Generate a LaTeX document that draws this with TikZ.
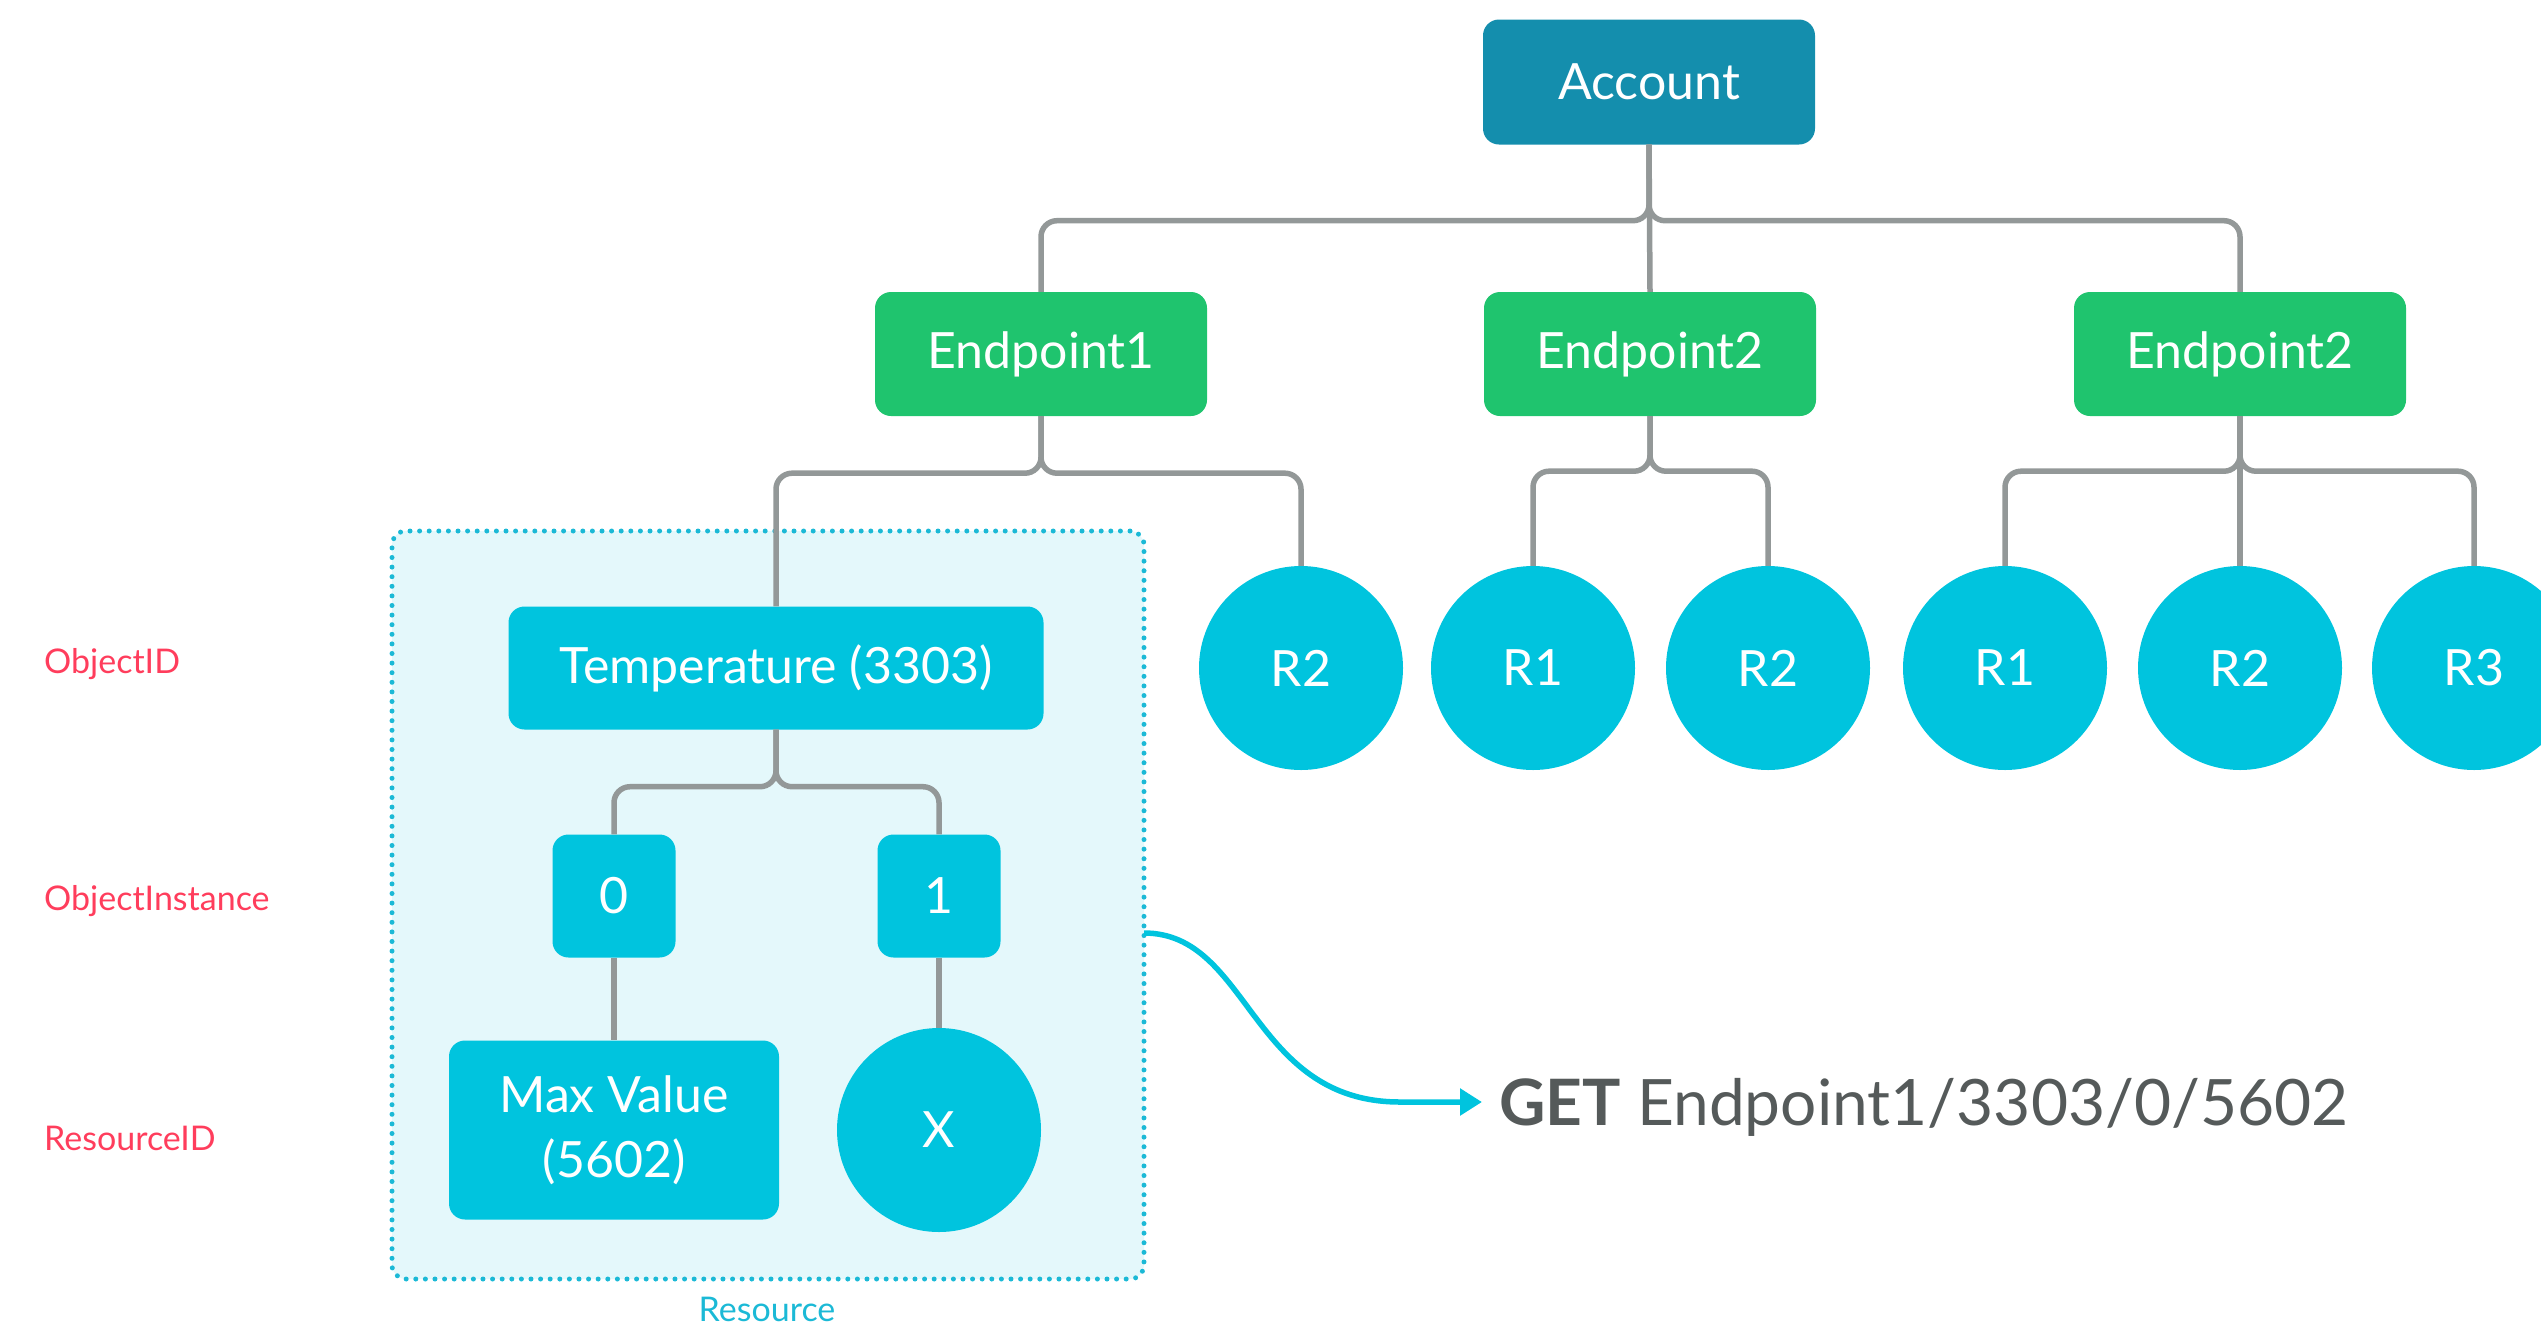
\documentclass[tikz,border=0pt]{standalone}
\usepackage{fontspec}
\setmainfont{Lato}
\usetikzlibrary{arrows.meta}
\definecolor{acccol}{HTML}{148EAD}
\definecolor{epcol}{HTML}{1FC46E}
\definecolor{cy}{HTML}{00C4DE}
\definecolor{lgray}{HTML}{939898}
\definecolor{lblred}{HTML}{FF3D5C}
\definecolor{gettext}{HTML}{555A5A}
\definecolor{boxfill}{HTML}{E4F8FB}
\definecolor{dotcol}{HTML}{1BB9D6}
\begin{document}
\begin{tikzpicture}[x=1pt,y=-1pt,
  boxbase/.style={rectangle, rounded corners=16pt, text=white, font=\fontsize{50}{65}\selectfont, inner sep=0pt, align=center},
  accbox/.style={boxbase, fill=acccol, minimum width=332pt, minimum height=125pt},
  epbox/.style={boxbase, fill=epcol, minimum width=332pt, minimum height=124pt},
  cybox/.style={boxbase, fill=cy},
  rcirc/.style={circle, fill=cy, text=white, minimum size=204pt, inner sep=0pt, font=\fontsize{50}{60}\selectfont},
  conn/.style={draw=lgray, line width=5.5pt, rounded corners=16pt},
  idlabel/.style={text=lblred, font=\fontsize{34}{40}\selectfont, anchor=west, inner sep=0pt},
]
\useasboundingbox (0,0) rectangle (2541,1326);
\clip (0,0) rectangle (2541,1326);

% resource area
\node[draw=dotcol, fill=boxfill, line width=5pt, dash pattern=on 0pt off 9.6pt, line cap=round,
      rounded corners=14pt, minimum width=752pt, minimum height=748pt] (res) at (768,905) {};
\node[text=dotcol, font=\fontsize{34}{40}\selectfont, inner sep=0pt] (reslbl) at (767,1309) {Resource};

% top level
\node[accbox] (acc) at (1649,82) {Account};
\node[epbox] (ep1) at (1041,354) {Endpoint1};
\node[epbox] (ep2) at (1650,354) {Endpoint2};
\node[epbox] (ep3) at (2240,354) {Endpoint2};

% resource circles
\node[rcirc] (e1r2) at (1301,668) {R2};
\node[rcirc] (e2r1) at (1533,668) {R1};
\node[rcirc] (e2r2) at (1768,668) {R2};
\node[rcirc] (e3r1) at (2005,668) {R1};
\node[rcirc] (e3r2) at (2240,668) {R2};
\node[rcirc] (e3r3) at (2474,668) {R3};

% object tree
\node[cybox, minimum width=535pt, minimum height=123pt] (temp) at (776,668) {Temperature (3303)};
\node[cybox, minimum width=123pt, minimum height=123pt] (i0) at (614,896) {0};
\node[cybox, minimum width=123pt, minimum height=123pt] (i1) at (939,896) {1};
\node[cybox, minimum width=330pt, minimum height=179pt] (maxv) at (614,1130) {Max Value\\(5602)};
\node[rcirc] (xc) at (939,1130) {X};

% connectors
\draw[conn] (acc.south) -- (ep2.north);
\draw[conn] (acc.south) -- ++(0,76) -| (ep1.north);
\draw[conn] (acc.south) -- ++(0,76) -| (ep3.north);
\draw[conn] (ep1.south) -- ++(0,57) -| (temp.north);
\draw[conn] (ep1.south) -- ++(0,57) -| (e1r2.north);
\draw[conn] (ep2.south) -- ++(0,55) -| (e2r1.north);
\draw[conn] (ep2.south) -- ++(0,55) -| (e2r2.north);
\draw[conn] (ep3.south) -- ++(0,55) -| (e3r1.north);
\draw[conn] (ep3.south) -- (e3r2.north);
\draw[conn] (ep3.south) -- ++(0,55) -| (e3r3.north);
\draw[conn] (temp.south) -- ++(0,57) -| (i0.north);
\draw[conn] (temp.south) -- ++(0,57) -| (i1.north);
\draw[conn] (i0.south) -- (maxv.north);
\draw[conn] (i1.south) -- (xc.north);

% side labels
\node[idlabel] (lobj) at (44,664) {ObjectID};
\node[idlabel] (linst) at (44,901) {ObjectInstance};
\node[idlabel] (lres) at (44,1138) {ResourceID};

% request
\node[anchor=base west, inner sep=0pt, text=gettext, font=\fontsize{64}{76}\selectfont] (get) at (1499,1125) {\textbf{GET} Endpoint1/3303/0/5602};
\coordinate (arrS) at (1144,933);
\coordinate (arrE) at (1482,1102);
\draw[draw=cy, line width=5.5pt, -{Triangle[length=22pt,width=26pt]}]
  (arrS) .. controls (1250,933) and (1250,1102) .. (1400,1102) -- (arrE);
\end{tikzpicture}
\end{document}
